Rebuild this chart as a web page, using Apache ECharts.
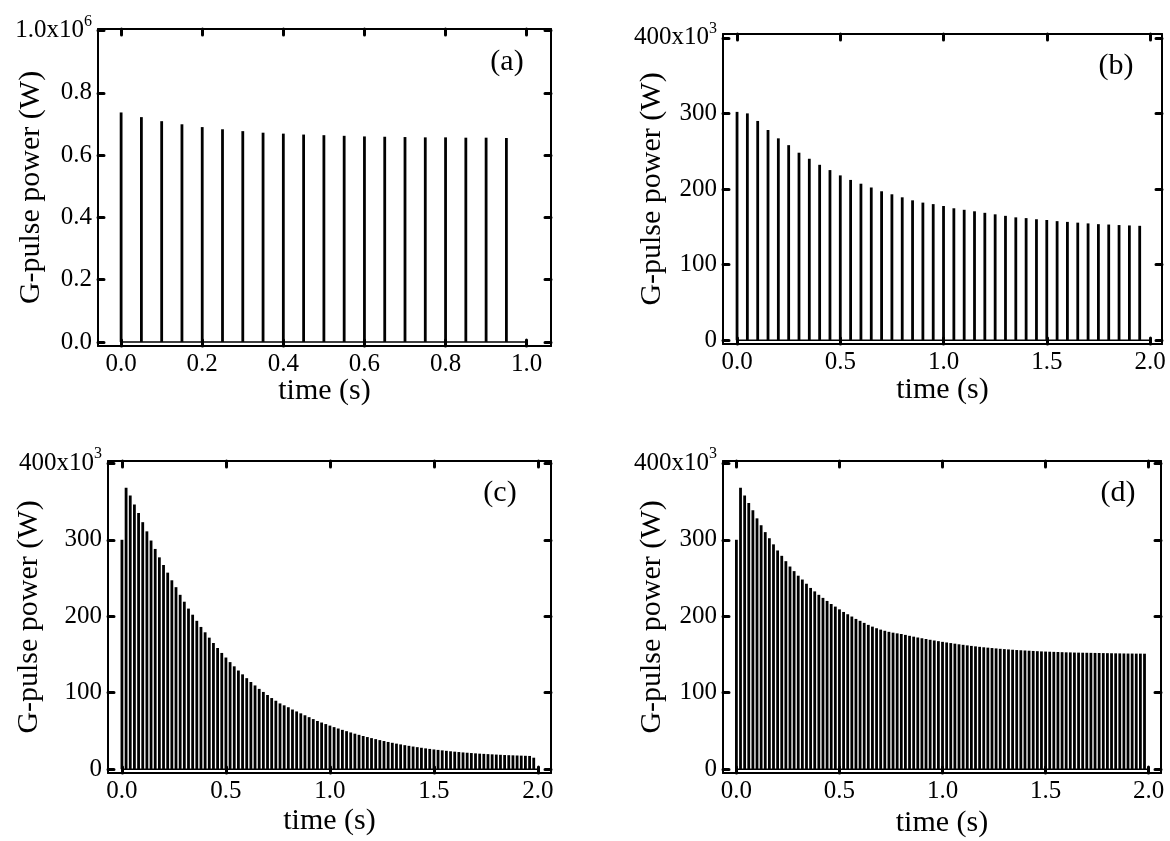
<!DOCTYPE html>
<html><head><meta charset="utf-8">
<script src="https://cdn.jsdelivr.net/npm/echarts@6/dist/echarts.min.js"></script>
<style>html,body{margin:0;padding:0;background:#fff}#c{width:1170px;height:841px}</style>
</head><body><div id="c"></div>
<script>
// ---- data (time in s, power as read on each panel's axis) ----
const timesA = [0,0.05,0.1,0.15,0.2,0.25,0.3,0.35,0.4,0.45,0.5,0.55,0.6,0.65,0.7,0.75,0.8,0.85,0.9,0.95];
const powerA = [0.737,0.722,0.709,0.699,0.690,0.683,0.677,0.672,0.669,0.666,0.664,0.662,0.660,0.659,0.658,0.657,0.657,0.656,0.656,0.655]; // x10^6 W
const durationA = 1.0;

const timesB = [0,0.05,0.1,0.15,0.2,0.25,0.3,0.35,0.4,0.45,0.5,0.55,0.6,0.65,0.7,0.75,0.8,0.85,0.9,0.95,
  1.0,1.05,1.1,1.15,1.2,1.25,1.3,1.35,1.4,1.45,1.5,1.55,1.6,1.65,1.7,1.75,1.8,1.85,1.9,1.95];
const powerB = [302,300,290,278,267,258,248,240,232,225,218,212,207,202,197,193,189,185,182,180,
  177.5,174.5,172.5,170.5,168.5,166.5,164.5,162.5,161.5,160,159,157.5,156.5,155.5,154.5,153.5,153,152.3,151.8,151.3]; // x10^3 W
const durationB = 2.0;

const timesCD = [0,0.02,0.04,0.06,0.08,0.1,0.12,0.14,0.16,0.18,0.2,0.22,0.24,0.26,0.28,0.3,0.32,0.34,0.36,0.38,
  0.4,0.42,0.44,0.46,0.48,0.5,0.52,0.54,0.56,0.58,0.6,0.62,0.64,0.66,0.68,0.7,0.72,0.74,0.76,0.78,
  0.8,0.82,0.84,0.86,0.88,0.9,0.92,0.94,0.96,0.98,1.0,1.02,1.04,1.06,1.08,1.1,1.12,1.14,1.16,1.18,
  1.2,1.22,1.24,1.26,1.28,1.3,1.32,1.34,1.36,1.38,1.4,1.42,1.44,1.46,1.48,1.5,1.52,1.54,1.56,1.58,
  1.6,1.62,1.64,1.66,1.68,1.7,1.72,1.74,1.76,1.78,1.8,1.82,1.84,1.86,1.88,1.9,1.92,1.94,1.96,1.98];
const powerC = [300,368,358,346,335,323,311,299,288,277,267,257,247,238,228,219,210,202,194,186,
  179,172,165,158.5,152,146,140,134.5,129,124,119,114,109.5,105,101,97,93,89.5,86,83.5,
  81,78,75.5,73,70.5,68,65.5,63,61,59,57,55,53.2,51.4,49.7,48,46.4,44.9,43.4,42,
  40.6,39.3,38,36.8,35.6,34.5,33.4,32.4,31.4,30.5,29.6,28.8,28,27.2,26.5,25.8,25.2,24.6,24,23.4,
  22.9,22.4,21.9,21.5,21.1,20.7,20.3,20,19.7,19.4,19.1,18.8,18.5,18.3,18.1,17.9,17.7,17.5,17.3,15]; // x10^3 W
const powerD = [300,368,358,348,338.6,328,319,310,302,294,286,279,272,265,259,253,248,242.5,237,232.5,
  228,224,220,216,212.6,209,205.6,202.6,199.6,196.5,194,191.3,188.7,186.4,184.3,182.5,181,179.6,178.5,177.6,
  176.8,175.6,174.4,173.3,172.2,171.2,170.2,169.2,168.3,167.4,166.5,165.7,164.9,164.1,163.3,162.6,161.9,161.2,160.6,160,
  159.4,158.9,158.4,157.9,157.4,157,156.6,156.2,155.8,155.5,155.2,154.9,154.6,154.3,154,153.8,153.6,153.4,153.2,153,
  152.8,152.7,152.5,152.4,152.3,152.2,152.1,152,151.9,151.8,151.7,151.6,151.5,151.4,151.3,151.2,151.2,151.1,151.1,151]; // x10^3 W
const durationCD = 2.0;

const xTicksA = [0,0.2,0.4,0.6,0.8,1.0];
const yTicksA = [0,0.2,0.4,0.6,0.8,1.0];
const xTicks2 = [0,0.5,1.0,1.5,2.0];
const yTicks2 = [0,100,200,300,400];
const panelLabels = ['(a)','(b)','(c)','(d)'];

// ---- styling / layout ----
const FONT = '"Liberation Serif","Times New Roman",serif';
const grids = [
  {left:98,  top:29,  width:453, height:317},
  {left:723, top:34,  width:439, height:310},
  {left:108, top:461, width:443, height:312},
  {left:723, top:461, width:438, height:312}
];
const xRanges = [[-0.057,1.06],[-0.068,2.058],[-0.067,2.063],[-0.065,2.06]];
const yRanges = [[-0.013,1.005],[-5,405],[-5,403],[-5,403]];
const yNameGaps = [52,56,64,56];
const xNameGaps = [30,31,33,35];
const panels = [
  {t:timesA, p:powerA, dur:durationA, xt:xTicksA, yt:yTicksA, top:'{m|1.0x10}{s|6}', fx:v=>v.toFixed(1), fy:v=>v.toFixed(1)},
  {t:timesB, p:powerB, dur:durationB, xt:xTicks2, yt:yTicks2, top:'{m|400x10}{s|3}', fx:v=>v.toFixed(1), fy:v=>String(v)},
  {t:timesCD, p:powerC, dur:durationCD, xt:xTicks2, yt:yTicks2, top:'{m|400x10}{s|3}', fx:v=>v.toFixed(1), fy:v=>String(v)},
  {t:timesCD, p:powerD, dur:durationCD, xt:xTicks2, yt:yTicks2, top:'{m|400x10}{s|3}', fx:v=>v.toFixed(1), fy:v=>String(v)}
];

const LBL = 25;
const lineS = {color:'#000', width:2};
const tickS = {show:true, inside:true, length:6, lineStyle:{color:'#000', width:3, cap:'round'}};
const rich = {
  m:{fontSize:LBL, fontFamily:FONT, color:'#000'},
  s:{fontSize:16, fontFamily:FONT, color:'#000', padding:[0,0,18,0], verticalAlign:'bottom'}
};

const xAxis = [], yAxis = [], series = [], graphic = [];
panels.forEach((pn, i) => {
  const g = i;
  xAxis.push({
    type:'value', gridIndex:g, position:'bottom', min:xRanges[i][0], max:xRanges[i][1],
    axisLine:{show:true, onZero:false, lineStyle:lineS},
    axisTick:Object.assign({customValues:pn.xt}, tickS),
    axisLabel:{customValues:pn.xt, formatter:pn.fx, fontSize:LBL, fontFamily:FONT, color:'#000', margin:6},
    splitLine:{show:false},
    name:'time (s)', nameLocation:'middle', nameGap:xNameGaps[i], nameMoveOverlap:false,
    nameTextStyle:{fontSize:30, fontFamily:FONT, color:'#000'}
  });
  xAxis.push({
    type:'value', gridIndex:g, position:'top', min:xRanges[i][0], max:xRanges[i][1],
    axisLine:{show:true, onZero:false, lineStyle:lineS},
    axisTick:Object.assign({customValues:pn.xt}, tickS),
    axisLabel:{show:false}, splitLine:{show:false}
  });
  const last = pn.yt[pn.yt.length-1];
  yAxis.push({
    type:'value', gridIndex:g, position:'left', min:yRanges[i][0], max:yRanges[i][1],
    axisLine:{show:true, onZero:false, lineStyle:lineS},
    axisTick:Object.assign({customValues:pn.yt}, tickS),
    axisLabel:{customValues:pn.yt, formatter:v => (v === last ? pn.top : pn.fy(v)),
      fontSize:LBL, fontFamily:FONT, color:'#000', margin:6, rich:rich},
    splitLine:{show:false},
    name:'G-pulse power (W)', nameLocation:'middle', nameGap:yNameGaps[i], nameRotate:90, nameMoveOverlap:false,
    nameTextStyle:{fontSize:30, fontFamily:FONT, color:'#000'}
  });
  yAxis.push({
    type:'value', gridIndex:g, position:'right', min:yRanges[i][0], max:yRanges[i][1],
    axisLine:{show:true, onZero:false, lineStyle:lineS},
    axisTick:Object.assign({customValues:pn.yt}, tickS),
    axisLabel:{show:false}, splitLine:{show:false}
  });
  series.push({
    type:'bar', xAxisIndex:2*i, yAxisIndex:2*i, barWidth:2.8, silent:true,
    itemStyle:{color:'#000'},
    data: pn.t.map((t, k) => [t, pn.p[k]])
  });
  series.push({
    type:'line', xAxisIndex:2*i, yAxisIndex:2*i, symbol:'none', silent:true,
    lineStyle:{color:'#000', width:1.5},
    data:[[pn.t[0], 0],[pn.dur, 0]]
  });
});

const labelPos = [[507,62],[1116,66],[500,493],[1118,493]];
panelLabels.forEach((s, i) => {
  graphic.push({type:'text', x:labelPos[i][0], y:labelPos[i][1],
    style:{text:s, font:'30px ' + FONT, fill:'#000', align:'center', verticalAlign:'middle'}});
});

const chart = echarts.init(document.getElementById('c'), null, {renderer:'canvas'});
chart.setOption({
  animation:false,
  backgroundColor:'#fff',
  grid:grids.map(g => Object.assign({containLabel:false, outerBoundsMode:'none'}, g)),
  xAxis, yAxis, series, graphic
});
</script>
</body></html>
